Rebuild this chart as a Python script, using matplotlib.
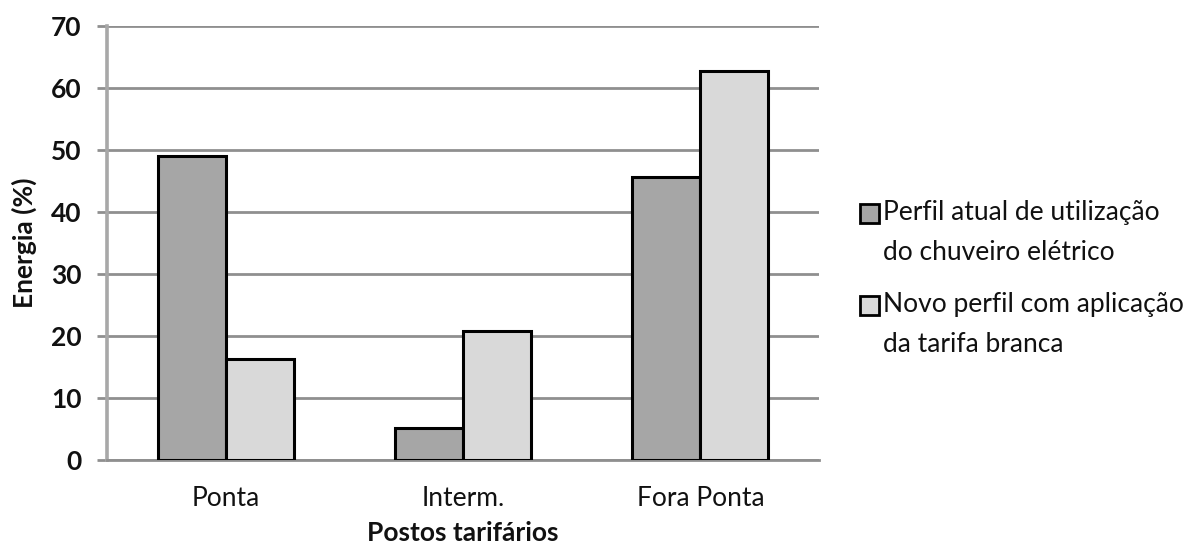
"""Energia por posto tarifário: perfil atual vs tarifa branca."""

import matplotlib

matplotlib.use("Agg")
import matplotlib.pyplot as plt
import numpy as np
from matplotlib.patches import Rectangle

categories = ["Ponta", "Interm.", "Fora Ponta"]
perfil_atual = [49.0, 5.2, 45.6]
perfil_novo = [16.3, 20.8, 62.8]
series_names = [
    "Perfil atual de utilização\ndo chuveiro elétrico",
    "Novo perfil com aplicação\nda tarifa branca",
]
y_ticks = [0, 10, 20, 30, 40, 50, 60, 70]

dark = "#a6a6a6"
light = "#d9d9d9"
grid_c = "#8f8f8f"
txt = "#111111"
fs = 19
plt.rcParams["font.family"] = ["Lato", "DejaVu Sans"]

fig = plt.figure(figsize=(11.96, 5.46), dpi=100, facecolor="white")
ax = fig.add_axes([107 / 1196, 86 / 546, 712 / 1196, 434 / 546])

x = np.arange(len(categories))
w = 0.287
ax.bar(x - w / 2, perfil_atual, w, color=dark, edgecolor="black", lw=2.2, zorder=3)
ax.bar(x + w / 2, perfil_novo, w, color=light, edgecolor="black", lw=2.2, zorder=3)

ax.set_xlim(-0.5, len(categories) - 0.5)
ax.set_ylim(0, 70)
ax.set_yticks(y_ticks)
ax.set_yticklabels([str(v) for v in y_ticks], fontsize=fs, weight="bold", color=txt)
ax.set_xticks(x)
ax.set_xticklabels(categories, fontsize=fs, color=txt)
ax.tick_params(axis="y", length=7.5, width=2, color=grid_c, pad=11)
ax.tick_params(axis="x", length=0, pad=19)

ax.yaxis.grid(True, color=grid_c, lw=2, zorder=0)
ax.set_axisbelow(True)
for s in ["top", "right"]:
    ax.spines[s].set_visible(False)
ax.spines["left"].set_color("#a8a8a8")
ax.spines["left"].set_linewidth(2.6)
ax.spines["bottom"].set_color(grid_c)
ax.spines["bottom"].set_linewidth(2)

ax.set_xlabel("Postos tarifários", fontsize=fs, weight="bold", color=txt, labelpad=7)
ax.set_ylabel("Energia (%)", fontsize=fs, weight="bold", color=txt, labelpad=10)

# legenda desenhada à mão (quadrado alinhado com a primeira linha)
leg_y = [214, 306]
for name, fc, yy in zip(series_names, [dark, light], leg_y):
    fig.patches.append(
        Rectangle(
            (860 / 1196, (546 - yy - 9) / 546),
            19 / 1196,
            19 / 546,
            transform=fig.transFigure,
            facecolor=fc,
            edgecolor="black",
            lw=2,
        )
    )
    fig.text(
        883 / 1196,
        (546 - yy + 14) / 546,
        name,
        fontsize=fs,
        color=txt,
        va="top",
        ha="left",
        linespacing=1.75,
    )

fig.savefig("out.png", dpi=100, facecolor="white")
